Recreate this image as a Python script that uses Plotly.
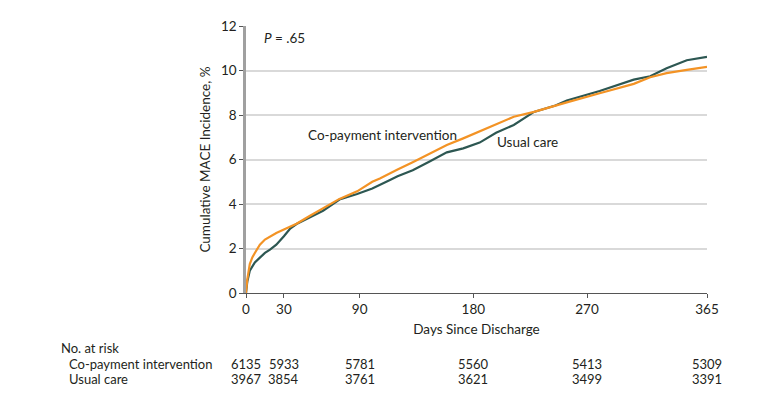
import plotly.graph_objects as go

# Data
days_copay = [0, 1, 3, 5, 7, 11, 15, 19, 24, 30, 35, 40, 50, 61, 74, 88, 100, 106, 114, 120, 132, 145, 159, 172, 185, 198, 212, 228, 249, 254, 280, 307, 320, 333, 349, 365]
inc_copay = [0, 0.6, 1.3, 1.6, 1.8, 2.17, 2.4, 2.53, 2.7, 2.85, 2.98, 3.11, 3.45, 3.8, 4.23, 4.57, 5.0, 5.15, 5.4, 5.55, 5.88, 6.25, 6.65, 6.95, 7.26, 7.6, 7.92, 8.14, 8.5, 8.57, 8.98, 9.4, 9.7, 9.88, 10.03, 10.16]

days_usual = [0, 1, 3, 5, 7, 11, 15, 19, 24, 30, 35, 40, 50, 61, 74, 88, 100, 106, 114, 120, 132, 145, 159, 172, 185, 198, 212, 228, 245, 254, 280, 307, 320, 333, 349, 365]
inc_usual = [0, 0.5, 1.0, 1.2, 1.37, 1.59, 1.8, 1.95, 2.17, 2.55, 2.9, 3.1, 3.4, 3.7, 4.2, 4.45, 4.7, 4.85, 5.08, 5.25, 5.52, 5.9, 6.32, 6.5, 6.76, 7.2, 7.55, 8.14, 8.43, 8.65, 9.08, 9.59, 9.74, 10.1, 10.46, 10.61]

risk_days = [0, 30, 90, 180, 270, 365]
risk_copay = [6135, 5933, 5781, 5560, 5413, 5309]
risk_usual = [3967, 3854, 3761, 3621, 3499, 3391]

x_ticks = [0, 30, 90, 180, 270, 365]
y_ticks = [0, 2, 4, 6, 8, 10, 12]

ORANGE = "#F39325"
GREEN = "#2D5752"
TXT = "#231F20"
FONT = "Lato"
FS = 13.5
TFS = 13

fig = go.Figure()
fig.add_trace(go.Scatter(x=days_usual, y=inc_usual, mode="lines",
                         line=dict(color=GREEN, width=2.2), showlegend=False))
fig.add_trace(go.Scatter(x=days_copay, y=inc_copay, mode="lines",
                         line=dict(color=ORANGE, width=2.2), showlegend=False))

# page has an 8px body margin; plot area should span x 246-707, y 18-293 on the page
fig.update_layout(
    width=780, height=400,
    margin=dict(l=238, r=81, t=10, b=115),
    paper_bgcolor="white", plot_bgcolor="white",
    font=dict(family=FONT, size=FS, color=TXT),
    xaxis=dict(range=[0, 365], tickvals=x_ticks, ticktext=[str(v) for v in x_ticks],
               showgrid=False, zeroline=False, showline=True, linecolor="#555555", linewidth=1,
               ticks="outside", ticklen=4, tickcolor="#555555",
               title=dict(text="Days Since Discharge", standoff=8, font=dict(size=FS))),
    yaxis=dict(range=[0, 12], tickvals=y_ticks, showgrid=True, gridcolor="#D9D9D9", gridwidth=1.5,
               zeroline=False, showline=True, linecolor="#A0A0A0", linewidth=2.5,
               ticks="outside", ticklen=4, tickcolor="#555555",
               title=dict(text="Cumulative MACE Incidence, %", standoff=8, font=dict(size=FS))),
)

ann = []
ann.append(dict(x=262, y=0.955, xref="paper", yref="paper", text="<i>P</i> = .65",
                showarrow=False, xanchor="left", yanchor="middle"))
ann.append(dict(x=108, y=7.1, xref="x", yref="y", text="Co-payment intervention",
                showarrow=False, xanchor="center", yanchor="middle"))
ann.append(dict(x=197, y=6.8, xref="x", yref="y", text="Usual care",
                showarrow=False, xanchor="left", yanchor="middle"))

def py(px):
    return (293 - px) / 275.0

row = dict(showarrow=False, yanchor="middle", borderpad=0, font=dict(size=TFS))
ann.append(dict(x=60, y=py(350), xref="paper", yref="paper", text="No. at risk",
                xanchor="left", **row))
ann.append(dict(x=68, y=py(366), xref="paper", yref="paper", text="Co-payment intervention",
                xanchor="left", **row))
ann.append(dict(x=68, y=py(382), xref="paper", yref="paper", text="Usual care",
                xanchor="left", **row))
for d, a, b in zip(risk_days, risk_copay, risk_usual):
    ann.append(dict(x=d, y=py(366), xref="x", yref="paper", text=str(a),
                    xanchor="center", **row))
    ann.append(dict(x=d, y=py(382), xref="x", yref="paper", text=str(b),
                    xanchor="center", **row))

# convert page-pixel x positions to paper fraction
for a_ in ann:
    if a_["xref"] == "paper" and a_["x"] > 1:
        a_["x"] = (a_["x"] - 246) / 461.0

fig.update_layout(annotations=ann)
fig.write_html("out.html")
